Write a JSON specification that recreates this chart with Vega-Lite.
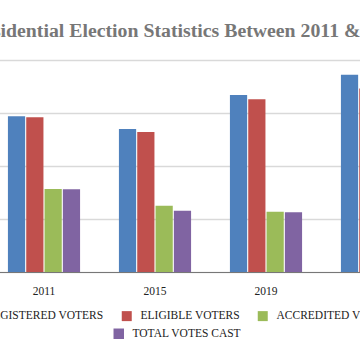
{
  "$schema": "https://vega.github.io/schema/vega-lite/v6.json",
  "width": 444,
  "height": 212,
  "autosize": {"type": "none"},
  "padding": {"left": -11.5, "top": 60, "right": -72.5, "bottom": 88},
  "background": "white",
  "title": {
    "text": "Presidential Election Statistics Between 2011 & 2023",
    "anchor": "start",
    "frame": "group",
    "dx": -24.9,
    "dy": 7,
    "font": "Liberation Serif",
    "fontSize": 19.8,
    "fontWeight": "bold",
    "color": "#777777",
    "baseline": "alphabetic",
    "offset": 10
  },
  "data": {
    "values": [
      {"year": "2011", "series": "REGISTERED VOTERS", "value": 73500000},
      {"year": "2011", "series": "ELIGIBLE VOTERS", "value": 73000000},
      {"year": "2011", "series": "ACCREDITED VOTERS", "value": 39100000},
      {"year": "2011", "series": "TOTAL VOTES CAST", "value": 39000000},
      {"year": "2015", "series": "REGISTERED VOTERS", "value": 67400000},
      {"year": "2015", "series": "ELIGIBLE VOTERS", "value": 66000000},
      {"year": "2015", "series": "ACCREDITED VOTERS", "value": 31300000},
      {"year": "2015", "series": "TOTAL VOTES CAST", "value": 28900000},
      {"year": "2019", "series": "REGISTERED VOTERS", "value": 83500000},
      {"year": "2019", "series": "ELIGIBLE VOTERS", "value": 81500000},
      {"year": "2019", "series": "ACCREDITED VOTERS", "value": 28400000},
      {"year": "2019", "series": "TOTAL VOTES CAST", "value": 28200000},
      {"year": "2023", "series": "REGISTERED VOTERS", "value": 93000000},
      {"year": "2023", "series": "ELIGIBLE VOTERS", "value": 86500000},
      {"year": "2023", "series": "ACCREDITED VOTERS", "value": 25300000},
      {"year": "2023", "series": "TOTAL VOTES CAST", "value": 24900000}
    ]
  },
  "mark": {"type": "bar", "strokeWidth": 0},
  "encoding": {
    "x": {
      "field": "year",
      "type": "nominal",
      "scale": {"paddingInner": 0.35, "paddingOuter": 0.175},
      "axis": {
        "title": null,
        "labelAngle": 0,
        "labelFont": "Liberation Serif",
        "labelFontSize": 11.5,
        "labelColor": "#222222",
        "labelPadding": 13,
        "ticks": false,
        "domainColor": "#777777",
        "domainWidth": 1
      }
    },
    "xOffset": {
      "field": "series",
      "type": "nominal",
      "sort": ["REGISTERED VOTERS", "ELIGIBLE VOTERS", "ACCREDITED VOTERS", "TOTAL VOTES CAST"],
      "scale": {"paddingInner": 0.06, "paddingOuter": 0}
    },
    "y": {
      "field": "value",
      "type": "quantitative",
      "scale": {"domain": [0, 100000000], "nice": false},
      "axis": {
        "title": null,
        "labels": false,
        "ticks": false,
        "domain": false,
        "values": [0, 25000000, 50000000, 75000000, 100000000],
        "gridColor": "#d9d9d9",
        "gridWidth": 1.5
      }
    },
    "fill": {
      "field": "series",
      "type": "nominal",
      "scale": {
        "domain": ["REGISTERED VOTERS", "ELIGIBLE VOTERS", "ACCREDITED VOTERS", "TOTAL VOTES CAST"],
        "range": ["#4f81bd", "#c0504d", "#9bbb59", "#8064a2"]
      },
      "legend": {
        "title": null,
        "orient": "none",
        "legendX": -22.5,
        "legendY": 250,
        "direction": "horizontal",
        "columns": 3,
        "values": ["REGISTERED VOTERS", "ELIGIBLE VOTERS", "ACCREDITED VOTERS"],
        "columnPadding": 17,
        "padding": 0,
        "labelOffset": 8,
        "symbolType": "square",
        "symbolSize": 100,
        "symbolStrokeWidth": 0,
        "labelFont": "Liberation Serif",
        "labelFontSize": 11.5,
        "labelColor": "#222222",
        "labelLimit": 300
      }
    },
    "stroke": {
      "field": "series",
      "type": "nominal",
      "scale": {
        "domain": ["TOTAL VOTES CAST", "REGISTERED VOTERS", "ELIGIBLE VOTERS", "ACCREDITED VOTERS"],
        "range": ["#8064a2", "#4f81bd", "#c0504d", "#9bbb59"]
      },
      "legend": {
        "title": null,
        "orient": "none",
        "legendX": 124.5,
        "legendY": 268,
        "direction": "horizontal",
        "values": ["TOTAL VOTES CAST"],
        "padding": 0,
        "labelOffset": 8,
        "symbolType": "square",
        "symbolSize": 110,
        "symbolFillColor": "#8064a2",
        "symbolStrokeWidth": 0,
        "labelFont": "Liberation Serif",
        "labelFontSize": 11.5,
        "labelColor": "#222222",
        "labelLimit": 300
      }
    }
  },
  "config": {"view": {"stroke": null}}
}
